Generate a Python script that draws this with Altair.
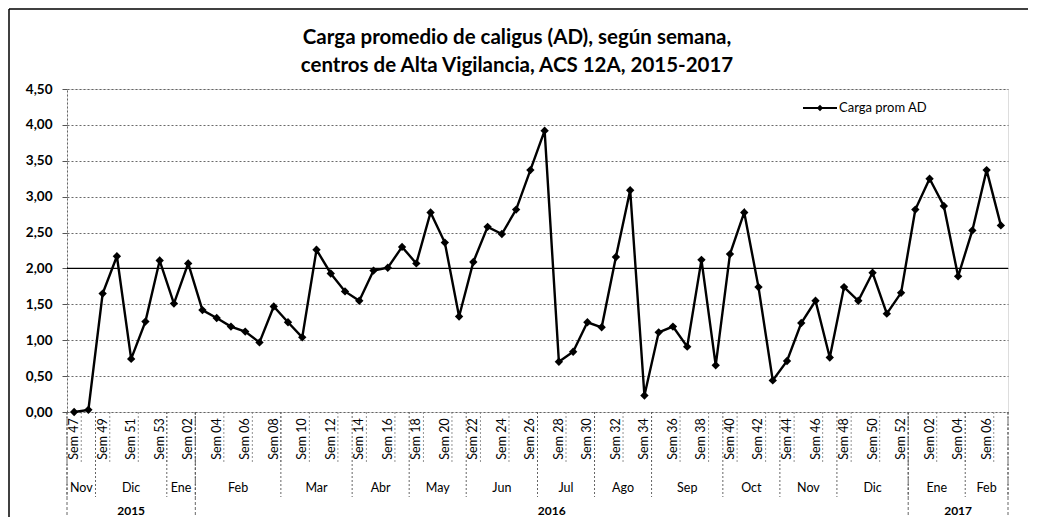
import altair as alt
import pandas as pd

# ---------------- data ----------------
week_labels = [
    "Sem 47", "Sem 48", "Sem 49", "Sem 50", "Sem 51", "Sem 52", "Sem 53",
    "Sem 01", "Sem 02", "Sem 03", "Sem 04", "Sem 05", "Sem 06", "Sem 07", "Sem 08",
    "Sem 09", "Sem 10", "Sem 11", "Sem 12", "Sem 13", "Sem 14", "Sem 15", "Sem 16",
    "Sem 17", "Sem 18", "Sem 19", "Sem 20", "Sem 21", "Sem 22", "Sem 23", "Sem 24",
    "Sem 25", "Sem 26", "Sem 27", "Sem 28", "Sem 29", "Sem 30", "Sem 31", "Sem 32",
    "Sem 33", "Sem 34", "Sem 35", "Sem 36", "Sem 37", "Sem 38", "Sem 39", "Sem 40",
    "Sem 41", "Sem 42", "Sem 43", "Sem 44", "Sem 45", "Sem 46", "Sem 47", "Sem 48",
    "Sem 49", "Sem 50", "Sem 51", "Sem 52",
    "Sem 01", "Sem 02", "Sem 03", "Sem 04", "Sem 05", "Sem 06", "Sem 07",
]
carga_prom_ad = [
    0.00, 0.03, 1.65, 2.17, 0.74, 1.26, 2.11, 1.51, 2.07, 1.42,
    1.31, 1.19, 1.12, 0.97, 1.47, 1.25, 1.04, 2.26, 1.93, 1.68,
    1.55, 1.97, 2.01, 2.30, 2.07, 2.78, 2.36, 1.33, 2.09, 2.58,
    2.48, 2.82, 3.37, 3.92, 0.70, 0.84, 1.25, 1.18, 2.16, 3.09,
    0.23, 1.11, 1.19, 0.91, 2.12, 0.65, 2.20, 2.78, 1.74, 0.44,
    0.71, 1.24, 1.55, 0.76, 1.74, 1.55, 1.94, 1.37, 1.66, 2.82,
    3.25, 2.87, 1.89, 2.53, 3.37, 2.60,
]
month_names = ["Nov", "Dic", "Ene", "Feb", "Mar", "Abr", "May", "Jun",
               "Jul", "Ago", "Sep", "Oct", "Nov", "Dic", "Ene", "Feb"]
month_weeks = [2, 5, 2, 6, 5, 4, 4, 5, 4, 4, 5, 4, 4, 5, 4, 3]
year_names = ["2015", "2016", "2017"]
year_weeks = [9, 50, 7]
y_ticks = [0.0, 0.5, 1.0, 1.5, 2.0, 2.5, 3.0, 3.5, 4.0, 4.5]
series_name = "Carga prom AD"
title_line1 = "Carga promedio de caligus (AD), según semana,"
title_line2 = "centros de Alta Vigilancia, ACS 12A, 2015-2017"

# ---------------- tables ----------------
n = len(carga_prom_ad)
df = pd.DataFrame({"idx": list(range(n)), "semana": week_labels, "valor": carga_prom_ad})
df_lab = df[df["idx"] % 2 == 0].copy()
df_lab["sep"] = df_lab["idx"] + 0.5

def groups(names, counts):
    rows, start = [], 0
    for nm, c in zip(names, counts):
        rows.append({"name": nm, "start": start - 0.5, "end": start + c - 0.5,
                     "mid": start + (c - 1) / 2})
        start += c
    return pd.DataFrame(rows)

df_m = groups(month_names, month_weeks)
df_y = groups(year_names, year_weeks)
m_bounds = pd.DataFrame({"b": sorted(set(df_m["start"]).union(df_m["end"]))})
y_bounds = pd.DataFrame({"b": sorted(set(df_y["start"]).union(df_y["end"]))})

W, H = 941, 323
FONT = "Lato"
xscale = alt.Scale(domain=[-0.5, n - 0.5], nice=False, zero=False)
yscale = alt.Scale(domain=[0, 4.5], nice=False, zero=True)
yaxis = alt.Axis(values=y_ticks, title=None, labelOverlap=False,
                 labelExpr="replace(format(datum.value, '.2f'), '.', ',')",
                 labelFont=FONT, labelFontSize=13.5, labelFontWeight="bold",
                 labelColor="black", labelPadding=10,
                 tickSize=5, tickColor="#555",
                 domain=True, domainColor="#666", domainDash=[2, 2],
                 grid=True, gridColor="#444", gridDash=[2, 2], gridWidth=0.8)
X = alt.X("idx:Q", scale=xscale, axis=None)
Y = alt.Y("valor:Q", scale=yscale, axis=yaxis)

base = alt.Chart(df)
line = base.mark_line(color="black", strokeWidth=2.4).encode(x=X, y=Y)
pts = base.mark_point(shape="diamond", filled=True, color="black", size=70,
                      opacity=1).encode(x=X, y=Y)

ref2 = alt.Chart(pd.DataFrame({"valor": [2.0]})).mark_rule(
    color="black", strokeWidth=1.2).encode(y=Y)

# x-axis category rows
wk_text = alt.Chart(df_lab).mark_text(angle=270, font=FONT, fontSize=12.5,
                                      color="black", align="center",
                                      baseline="middle").encode(
    x=alt.X("idx:Q", scale=xscale, axis=None),
    y=alt.value(H + 27), text="semana:N")
wk_sep = alt.Chart(df_lab).mark_rule(color="#777", strokeDash=[2, 2],
                                     strokeWidth=0.8).encode(
    x=alt.X("sep:Q", scale=xscale, axis=None),
    y=alt.value(H), y2=alt.value(H + 50))
m_sep = alt.Chart(m_bounds).mark_rule(color="#555", strokeDash=[2, 2],
                                      strokeWidth=0.9).encode(
    x=alt.X("b:Q", scale=xscale, axis=None),
    y=alt.value(H), y2=alt.value(H + 85))
m_text = alt.Chart(df_m).mark_text(font=FONT, fontSize=12.5, color="black",
                                   baseline="middle").encode(
    x=alt.X("mid:Q", scale=xscale, axis=None),
    y=alt.value(H + 76), text="name:N")
y_sep = alt.Chart(y_bounds).mark_rule(color="#555", strokeDash=[3, 2],
                                      strokeWidth=0.9).encode(
    x=alt.X("b:Q", scale=xscale, axis=None),
    y=alt.value(H), y2=alt.value(H + 110))
y_text = alt.Chart(df_y).mark_text(font=FONT, fontSize=12, fontWeight="bold",
                                   color="black", baseline="middle").encode(
    x=alt.X("mid:Q", scale=xscale, axis=None),
    y=alt.value(H + 99), text="name:N")

# title (two lines)
def title_text(s, ypos):
    return alt.Chart(pd.DataFrame({"t": [s]})).mark_text(
        font=FONT, fontSize=20.5, fontWeight="bold", color="black",
        align="center", baseline="middle").encode(
        x=alt.value(450), y=alt.value(ypos), text="t:N")

t1 = title_text(title_line1, -51)
t2 = title_text(title_line2, -23)

# legend (manual)
leg = pd.DataFrame({"name": [series_name]})
leg_line = alt.Chart(leg).mark_rule(color="black", strokeWidth=2).encode(
    x=alt.value(736), x2=alt.value(770), y=alt.value(19))
leg_pt = alt.Chart(leg).mark_point(shape="diamond", filled=True, color="black",
                                   size=40, opacity=1).encode(
    x=alt.value(753), y=alt.value(19))
leg_txt = alt.Chart(leg).mark_text(font=FONT, fontSize=13, color="black",
                                   align="left", baseline="middle").encode(
    x=alt.value(772), y=alt.value(19), text="name:N")

# outer frame (top and left edges)
frame_top = alt.Chart(leg).mark_rule(color="black", strokeWidth=1.5).encode(
    x=alt.value(-58), x2=alt.value(962), y=alt.value(-80))
frame_left = alt.Chart(leg).mark_rule(color="black", strokeWidth=1.5).encode(
    x=alt.value(-58), y=alt.value(-80), y2=alt.value(432))

chart = alt.layer(
    frame_top, frame_left, wk_sep, m_sep, y_sep, line, ref2, pts,
    wk_text, m_text, y_text, leg_line, leg_pt, leg_txt, t1, t2,
).properties(
    width=W, height=H,
    autosize=alt.AutoSizeParams(type="none"),
    padding={"left": 59, "top": 81, "right": 20, "bottom": 105},
).configure_view(stroke=None).configure(background="white")

chart.save("out.html", embed_options={"renderer": "svg", "actions": False})
